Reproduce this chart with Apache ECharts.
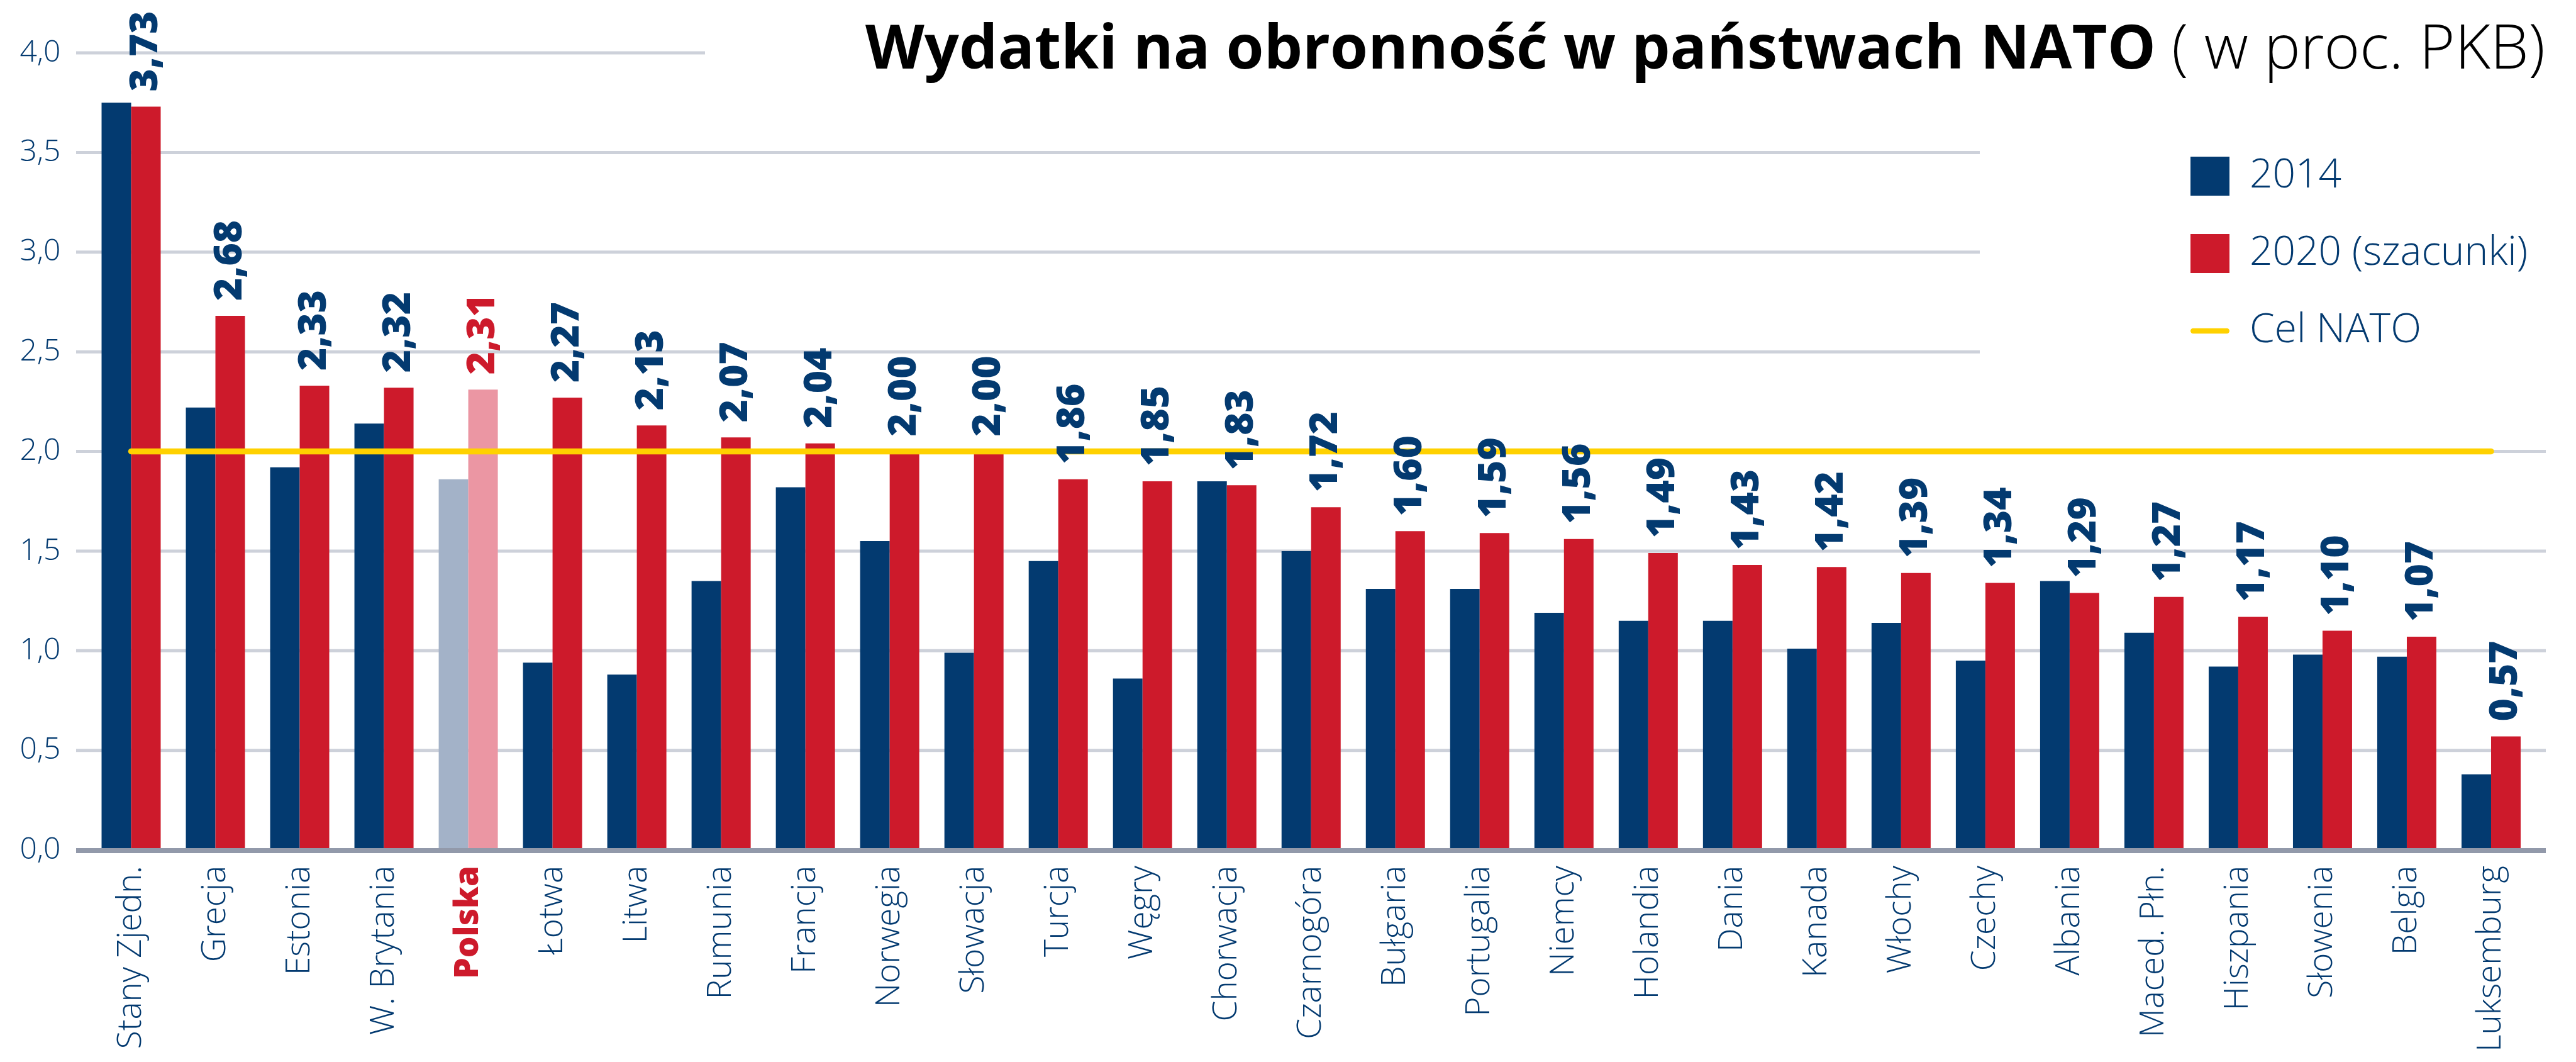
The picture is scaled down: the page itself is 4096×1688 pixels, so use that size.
<!DOCTYPE html>
<html>
<head>
<meta charset="utf-8">
<title>Wydatki na obronność w państwach NATO</title>
<script src="https://cdn.jsdelivr.net/npm/echarts@6/dist/echarts.min.js"></script>
<style>
  html, body { margin: 0; padding: 0; background: #fff; }
  #chart { width: 4096px; height: 1688px; }
</style>
</head>
<body>
<div id="chart"></div>
<script>
// dane: wydatki na obronność (proc. PKB)
var categories = ['Stany Zjedn.', 'Grecja', 'Estonia', 'W. Brytania', 'Polska', 'Łotwa', 'Litwa', 'Rumunia',
    'Francja', 'Norwegia', 'Słowacja', 'Turcja', 'Węgry', 'Chorwacja', 'Czarnogóra', 'Bułgaria', 'Portugalia',
    'Niemcy', 'Holandia', 'Dania', 'Kanada', 'Włochy', 'Czechy', 'Albania', 'Maced. Płn.', 'Hiszpania',
    'Słowenia', 'Belgia', 'Luksemburg'];
var values2014 = [3.75, 2.22, 1.92, 2.14, 1.86, 0.94, 0.88, 1.35, 1.82, 1.55, 0.99, 1.45, 0.86, 1.85, 1.50,
    1.31, 1.31, 1.19, 1.15, 1.15, 1.01, 1.14, 0.95, 1.35, 1.09, 0.92, 0.98, 0.97, 0.38];
var values2020 = [3.73, 2.68, 2.33, 2.32, 2.31, 2.27, 2.13, 2.07, 2.04, 2.00, 2.00, 1.86, 1.85, 1.83, 1.72,
    1.60, 1.59, 1.56, 1.49, 1.43, 1.42, 1.39, 1.34, 1.29, 1.27, 1.17, 1.10, 1.07, 0.57];
var natoTarget = 2.0;
var yTicks = [0, 0.5, 1.0, 1.5, 2.0, 2.5, 3.0, 3.5, 4.0];
var highlight = 'Polska';

var NAVY = '#033a70', RED = '#cd1a2b', PALE_BLUE = '#a3b2c8', PINK = '#eb96a3', YELLOW = '#ffd100';
var FONT = '"Open Sans", "Noto Sans", sans-serif';
var BAR_W = 47;

function pl(v, d) { return v.toFixed(d).replace('.', ','); }

var chart = echarts.init(document.getElementById('chart'));

var option = {
    backgroundColor: '#fff',
    animation: false,
    title: {
        text: '{b|Wydatki na obronność w państwach NATO}{l| ( w proc. PKB)}',
        right: 44,
        top: 28,
        textStyle: {
            rich: {
                b: { fontFamily: FONT, fontWeight: 700, fontSize: 97, color: '#000' },
                l: { fontFamily: FONT, fontWeight: 300, fontSize: 97, color: '#000' }
            }
        }
    },
    legend: {
        orient: 'vertical',
        left: 3478,
        top: 243,
        itemWidth: 62,
        itemHeight: 62,
        itemGap: 59,
        data: [
            { name: '2014', icon: 'rect' },
            { name: '2020 (szacunki)', icon: 'rect' },
            { name: 'Cel NATO', icon: 'path://M10,0 H140 A10,10 0 0 1 140,20 H10 A10,10 0 0 1 10,0 Z' }
        ],
        textStyle: { fontFamily: FONT, fontWeight: 300, fontSize: 64, color: NAVY, padding: [0, 0, 0, 27] }
    },
    grid: { left: 141.5, right: 68, top: 84, bottom: 337, containLabel: false },
    xAxis: [
        {
            type: 'category',
            data: categories,
            axisLine: { show: false },
            axisTick: { show: false },
            axisLabel: {
                interval: 0,
                rotate: 90,
                margin: 25,
                formatter: function (v) { return v === highlight ? '{p|' + v + '}' : '{n|' + v + '}'; },
                rich: {
                    n: { fontFamily: FONT, fontWeight: 300, fontSize: 53, color: NAVY },
                    p: { fontFamily: FONT, fontWeight: 800, fontSize: 53, color: RED }
                }
            }
        },
        {
            // ukryta kopia osi, żeby etykiety wartości leżały nad żółtą linią
            type: 'category',
            data: categories,
            show: false
        }
    ],
    yAxis: {
        type: 'value',
        min: 0,
        max: 4,
        interval: 0.5,
        axisLine: { show: false },
        axisTick: { show: false },
        splitLine: { show: false },
        axisLabel: {
            margin: 45,
            fontFamily: FONT,
            fontWeight: 300,
            fontSize: 48,
            color: NAVY,
            formatter: function (v) { return pl(v, 1); }
        }
    },
    series: [
        {
            name: '2014',
            type: 'bar',
            barWidth: BAR_W,
            barGap: '0%',
            itemStyle: { color: NAVY },
            data: values2014.map(function (v, i) {
                return categories[i] === highlight ? { value: v, itemStyle: { color: PALE_BLUE } } : v;
            }),
            z: 2
        },
        {
            name: '2020 (szacunki)',
            type: 'bar',
            barWidth: BAR_W,
            barGap: '0%',
            itemStyle: { color: RED },
            data: values2020.map(function (v, i) {
                return categories[i] === highlight ? { value: v, itemStyle: { color: PINK } } : v;
            }),
            z: 2
        },
        {
            name: 'Cel NATO',
            type: 'line',
            symbol: 'none',
            lineStyle: { color: YELLOW, width: 9.5, cap: 'round' },
            itemStyle: { color: YELLOW },
            data: [[categories[0], natoTarget], [categories[categories.length - 1], natoTarget]],
            z: 3
        },
        // przezroczyste słupki na ukrytej osi – tylko nośnik etykiet
        {
            name: 'spacer',
            type: 'bar',
            xAxisIndex: 1,
            barWidth: BAR_W,
            barGap: '0%',
            silent: true,
            itemStyle: { color: 'rgba(0,0,0,0)' },
            data: values2014,
            z: 6
        },
        {
            name: 'etykiety',
            type: 'bar',
            xAxisIndex: 1,
            barWidth: BAR_W,
            barGap: '0%',
            silent: true,
            itemStyle: { color: 'rgba(0,0,0,0)' },
            label: {
                show: true,
                position: 'top',
                rotate: 90,
                align: 'left',
                verticalAlign: 'middle',
                distance: 24,
                fontFamily: FONT,
                fontWeight: 800,
                fontSize: 62,
                color: NAVY,
                formatter: function (p) { return pl(p.value, 2); }
            },
            data: values2020.map(function (v, i) {
                return categories[i] === highlight ? { value: v, label: { color: RED } } : v;
            }),
            z: 6
        }
    ]
};

chart.setOption(option);

// linie siatki o różnej długości (tytuł i legenda je przerywają) + oś
var lineLeft = 121;
function gridEnd(v) {
    if (v >= 4) return 1121;
    if (v >= 2.5) return 3148;
    return 4048;
}
var graphics = yTicks.filter(function (v) { return v > 0; }).map(function (v) {
    var y = chart.convertToPixel({ yAxisIndex: 0 }, v);
    return {
        type: 'line',
        z: 1,
        shape: { x1: lineLeft, y1: y, x2: gridEnd(v), y2: y },
        style: { stroke: '#cdd1da', lineWidth: 5 }
    };
});
var y0 = chart.convertToPixel({ yAxisIndex: 0 }, 0);
graphics.push({
    type: 'line',
    z: 5,
    shape: { x1: lineLeft, y1: y0 + 1, x2: 4048, y2: y0 + 1 },
    style: { stroke: '#9299aa', lineWidth: 8 }
});
chart.setOption({ graphic: graphics });
</script>
</body>
</html>
